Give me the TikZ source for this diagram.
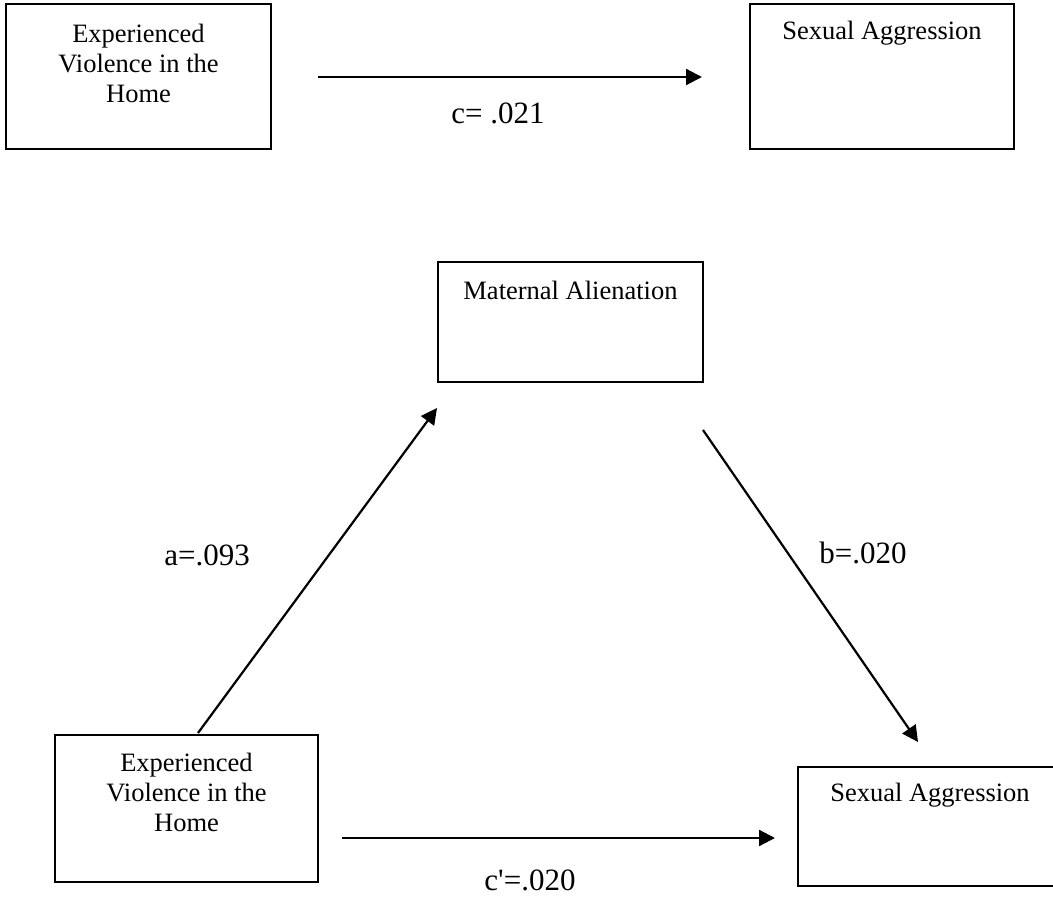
\documentclass[tikz,border=0pt]{standalone}
\usepackage{fontspec}
\setmainfont{Liberation Serif}
\usetikzlibrary{arrows.meta}
\begin{document}
\begin{tikzpicture}[x=1pt,y=-1pt,
  boxnode/.style={draw, line width=2pt, rectangle, inner sep=0pt},
  boxtext/.style={align=center, inner sep=0pt, font=\fontsize{26.5}{30}\selectfont},
  labeltext/.style={inner sep=0pt, font=\fontsize{31}{36}\selectfont},
  arr/.style={line width=2.2pt, -{Triangle[length=16pt,width=16pt]}}]
\clip (0,0) rectangle (1053,897);
\fill[white] (0,0) rectangle (1053,897);
% top row
\node[boxnode, minimum width=265pt, minimum height=145pt] (tl) at (138.5,76.5) {};
\node[boxtext] (tlt) at (138.5,63) {Experienced\\Violence in the\\Home};
\node[boxnode, minimum width=264pt, minimum height=145pt] (tr) at (882,76.5) {};
\node[boxtext] (trt) at (882,33) {Sexual Aggression};
\coordinate (c1) at (318,77);
\coordinate (c2) at (702,77);
\draw[arr] (c1) -- (c2);
\node[labeltext] (cl) at (498,113) {c= .021};
% mediation model
\node[boxnode, minimum width=265pt, minimum height=120pt] (mid) at (570.5,322) {};
\node[boxtext] (midt) at (570.5,290) {Maternal Alienation};
\node[boxnode, minimum width=263pt, minimum height=147pt] (bl) at (186.5,808.5) {};
\node[boxtext] (blt) at (186.5,792) {Experienced\\Violence in the\\Home};
\node[boxnode, minimum width=264pt, minimum height=119pt] (br) at (930,826.5) {};
\node[boxtext] (brt) at (930,795) {Sexual Aggression};
\coordinate (a1) at (198,733);
\coordinate (a2) at (437,408);
\draw[arr] (a1) -- (a2);
\coordinate (b1) at (703,430);
\coordinate (b2) at (918,742);
\draw[arr] (b1) -- (b2);
\coordinate (d1) at (342,838);
\coordinate (d2) at (775,838);
\draw[arr] (d1) -- (d2);
\node[labeltext] (al) at (207,555) {a=.093};
\node[labeltext] (bll) at (863,553) {b=.020};
\node[labeltext] (dl) at (530,880) {c\textquotesingle=.020};
\end{tikzpicture}
\end{document}
